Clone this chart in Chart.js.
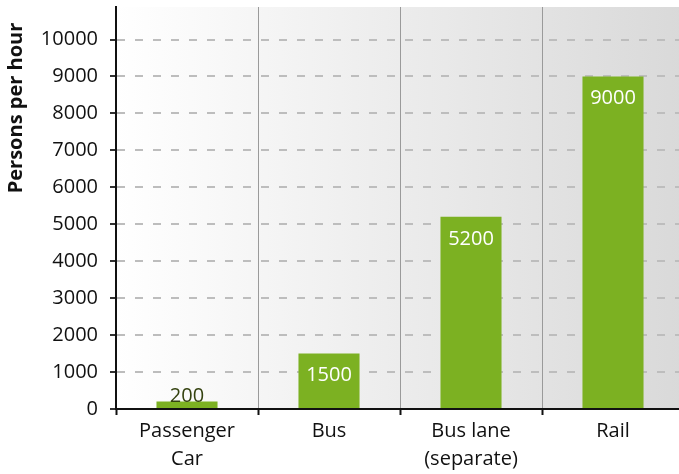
<!DOCTYPE html>
<html>
<head>
<meta charset="utf-8">
<script src="https://cdn.jsdelivr.net/npm/chart.js@4/dist/chart.umd.min.js"></script>
<style>
  html, body { margin: 0; padding: 0; background: #fff; overflow: hidden; }
  #wrap { width: 684px; height: 474px; }
</style>
</head>
<body>
<div id="wrap"><canvas id="chart" width="684" height="474"></canvas></div>
<script>
// Daten
const categories = [["Passenger", "Car"], "Bus", ["Bus lane", "(separate)"], "Rail"];
const personsPerHour = [200, 1500, 5200, 9000];
const yTicks = [0, 1000, 2000, 3000, 4000, 5000, 6000, 7000, 8000, 9000, 10000];
const yTitle = "Persons per hour";
const yMax = 10880;

const FONT = "'Open Sans', sans-serif";
const GREEN = "#7cb122";

// Hintergrund: Verlauf von weiss nach grau ueber die Plotflaeche
const bgPlugin = {
  id: "bg",
  beforeDraw(chart) {
    const { ctx, chartArea: a } = chart;
    const g = ctx.createLinearGradient(a.left, 0, a.right, 0);
    g.addColorStop(0, "#ffffff");
    g.addColorStop(1, "#d9d9d9");
    ctx.save();
    ctx.fillStyle = g;
    ctx.fillRect(a.left, a.top, a.right - a.left, a.bottom - a.top);
    ctx.restore();
  }
};

// Werte in/ueber den Balken
const labelPlugin = {
  id: "labels",
  afterDatasetsDraw(chart) {
    const { ctx } = chart;
    const meta = chart.getDatasetMeta(0);
    ctx.save();
    ctx.font = "20px " + FONT;
    ctx.textAlign = "center";
    ctx.textBaseline = "middle";
    meta.data.forEach((bar, i) => {
      const h = bar.base - bar.y;
      const txt = String(personsPerHour[i]);
      if (h < 30) {
        ctx.fillStyle = "#34420f";
        ctx.fillText(txt, bar.x, bar.y - 5);
      } else {
        ctx.fillStyle = "#ffffff";
        ctx.fillText(txt, bar.x, bar.y + 22);
      }
    });
    ctx.restore();
  }
};

// Achsentitel oben links
const titlePlugin = {
  id: "ytitle",
  afterDraw(chart) {
    const { ctx } = chart;
    ctx.save();
    ctx.translate(16, 108);
    ctx.rotate(-Math.PI / 2);
    ctx.font = "bold 20px " + FONT;
    ctx.fillStyle = "#111";
    ctx.textAlign = "center";
    ctx.textBaseline = "middle";
    ctx.fillText(yTitle, 0, 0);
    ctx.restore();
  }
};

new Chart(document.getElementById("chart"), {
  type: "bar",
  data: {
    labels: categories,
    datasets: [{
      data: personsPerHour,
      backgroundColor: GREEN,
      borderWidth: 0,
      categoryPercentage: 1,
      barPercentage: 0.43
    }]
  },
  options: {
    responsive: false,
    animation: false,
    layout: { padding: { top: 7, left: 0, right: 0, bottom: 0 } },
    plugins: {
      legend: { display: false },
      tooltip: { enabled: false }
    },
    scales: {
      x: {
        offset: true,
        afterFit(scale) {
          scale.height = 65;
          scale.paddingLeft = 0;
          scale.paddingRight = 0;
        },
        grid: {
          offset: true,
          color: "#9a9a9a",
          lineWidth: 1,
          drawTicks: true,
          tickLength: 6,
          tickColor: "#111",
          tickWidth: 2
        },
        border: { color: "#111", width: 2 },
        ticks: {
          color: "#111",
          font: { family: FONT, size: 20, lineHeight: 1.4 },
          padding: 2,
          maxRotation: 0,
          autoSkip: false
        }
      },
      y: {
        min: 0,
        max: yMax,
        afterFit(scale) {
          scale.width = 116;
          scale.paddingTop = 0;
          scale.paddingBottom = 0;
        },
        afterBuildTicks(scale) {
          scale.ticks = yTicks.map(v => ({ value: v }));
        },
        grid: {
          color: "#bdbdbd",
          lineWidth: 2,
          tickLength: 6,
          tickColor: "#333",
          tickWidth: 2
        },
        border: { color: "#111", width: 2, dash: [8, 10] },
        ticks: {
          color: "#111",
          padding: 12,
          font: { family: FONT, size: 20 },
          callback: v => String(v)
        }
      }
    }
  },
  plugins: [bgPlugin, labelPlugin, titlePlugin]
});
</script>
</body>
</html>
